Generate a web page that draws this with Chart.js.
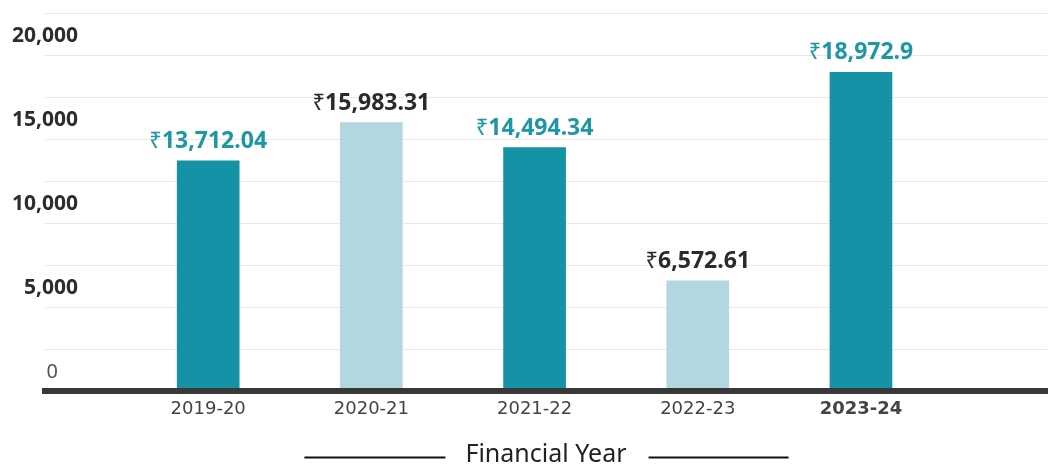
<!DOCTYPE html>
<html><head><meta charset="utf-8">
<script src="https://cdn.jsdelivr.net/npm/chart.js@4"></script>
<style>html,body{margin:0;padding:0;background:#fff}#wrap{width:1054px;height:467px;position:relative}</style>
</head><body><div id="wrap"><canvas id="c"></canvas></div>
<script>
// ---- data ----
const categories = ['2019-20', '2020-21', '2021-22', '2022-23', '2023-24'];
const values = [13712.04, 15983.31, 14494.34, 6572.61, 18972.9];
const valueLabels = ['13,712.04', '15,983.31', '14,494.34', '6,572.61', '18,972.9'];
const yTickValues = [0, 5000, 10000, 15000, 20000];
const yTickLabels = ['0', '5,000', '10,000', '15,000', '20,000'];
const axisTitle = 'Financial Year';
const currency = '\u20B9';

// ---- style ----
const TEAL = '#1592a5';
const LIGHT = '#b2d7df';
const barColors = [TEAL, LIGHT, TEAL, LIGHT, TEAL];
const labelColors = ['#1d97a3', '#2a2a2a', '#1d97a3', '#2a2a2a', '#1d97a3'];
const boldCategory = '2023-24';

const valueLabelPlugin = {
  id: 'valueLabels',
  afterDatasetsDraw(chart) {
    const ctx = chart.ctx;
    const meta = chart.getDatasetMeta(0);
    meta.data.forEach((bar, i) => {
      const num = valueLabels[i];
      ctx.save();
      ctx.textBaseline = 'alphabetic';
      ctx.textAlign = 'left';
      const numFont = 'bold 23px "Noto Sans"';
      const symFont = 'normal 22px "Noto Sans"';
      ctx.font = numFont;
      const wNum = ctx.measureText(num).width;
      ctx.font = symFont;
      const wSym = ctx.measureText(currency).width;
      const x = bar.x - (wNum + wSym) / 2;
      const y = bar.y - 13;
      ctx.fillStyle = labelColors[i];
      ctx.fillText(currency, x, y);
      ctx.font = numFont;
      ctx.fillText(num, x + wSym, y);
      ctx.restore();
    });
  }
};

const titleLinesPlugin = {
  id: 'titleLines',
  afterDraw(chart) {
    const xs = chart.scales.x;
    const tOpts = xs.options.title;
    const font = Chart.helpers.toFont(tOpts.font);
    const ctx = chart.ctx;
    ctx.save();
    ctx.font = font.string;
    const w = ctx.measureText(tOpts.text).width;
    const cx = (xs.left + xs.right) / 2;
    const cy = xs.bottom - font.lineHeight / 2 + 3;
    ctx.strokeStyle = '#111';
    ctx.lineWidth = 2;
    ctx.beginPath();
    ctx.moveTo(cx - w / 2 - 20 - 141, cy);
    ctx.lineTo(cx - w / 2 - 20, cy);
    ctx.moveTo(cx + w / 2 + 22, cy);
    ctx.lineTo(cx + w / 2 + 22 + 140, cy);
    ctx.stroke();
    ctx.restore();
  }
};

new Chart(document.getElementById('c'), {
  type: 'bar',
  data: {
    datasets: [{
      data: values.map((v, i) => ({ x: i, y: v })),
      backgroundColor: barColors,
      borderWidth: 0,
      barThickness: 62
    }]
  },
  options: {
    responsive: true,
    maintainAspectRatio: false,
    animation: false,
    layout: { padding: { left: 45, right: 0, top: 13, bottom: 0 } },
    plugins: { legend: { display: false }, tooltip: { enabled: false } },
    scales: {
      x: {
        type: 'linear',
        offset: false,
        min: -1,
        max: 5.14,
        grid: { display: false, drawTicks: false },
        border: { display: true, color: '#383838', width: 6, z: 1 },
        ticks: {
          stepSize: 1,
          autoSkip: false,
          maxRotation: 0,
          padding: 7,
          color: '#444',
          font: (c) => ({
            family: 'DejaVu Sans', size: 18,
            weight: (c.tick && categories[c.tick.value] === boldCategory) ? 'bold' : 'normal'
          }),
          callback: (v) => (Number.isInteger(v) && categories[v] !== undefined) ? categories[v] : ''
        },
        title: {
          display: true,
          text: axisTitle,
          color: '#222',
          font: { family: 'Noto Sans', size: 25, weight: 'normal', lineHeight: 1 },
          padding: { top: 15, bottom: 0 }
        }
      },
      y: {
        min: 0,
        max: 22500,
        grid: { color: '#e8e8e8', lineWidth: 1, drawTicks: false },
        border: { display: false },
        ticks: {
          stepSize: 2500,
          mirror: true,
          crossAlign: 'far',
          padding: -11,
          labelOffset: -19,
          autoSkip: false,
          color: (c) => (c.tick && c.tick.value === 0) ? '#555' : '#2d2d2d',
          font: (c) => (c.tick && c.tick.value === 0)
            ? { family: 'Noto Sans', size: 20, weight: 'normal' }
            : { family: 'Noto Sans', size: 21, weight: 'bold' },
          callback: (v) => {
            const idx = yTickValues.indexOf(v);
            if (idx < 0) return '';
            return v === 0 ? yTickLabels[idx] + '\u2002\u2002' : yTickLabels[idx];
          }
        }
      }
    }
  },
  plugins: [valueLabelPlugin, titleLinesPlugin]
});
</script>
</body></html>
